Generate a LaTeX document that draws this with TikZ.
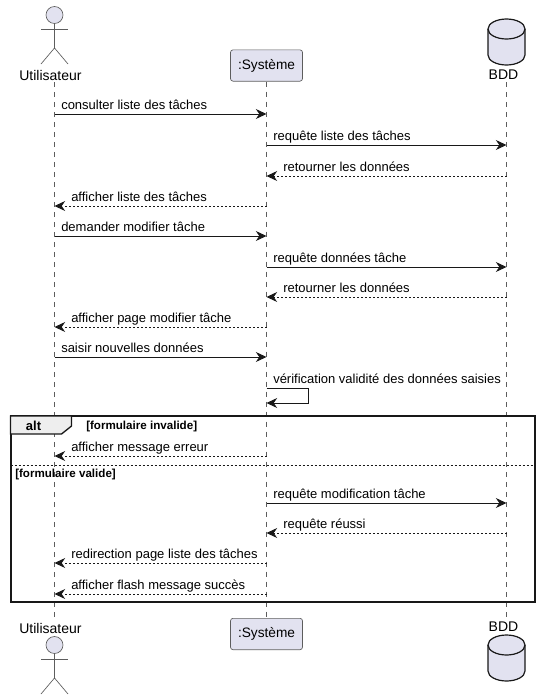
\documentclass[tikz,border=0pt]{standalone}
\usepackage{fontspec}
\setmainfont{Liberation Sans}
\usetikzlibrary{arrows.meta}
\definecolor{partfill}{HTML}{E2E2F0}
\definecolor{partline}{HTML}{181818}
\definecolor{tabfill}{HTML}{EEEEEE}
\tikzset{lifeline/.style={draw=partline!70, line width=0.5pt, dash pattern=on 3.75pt off 3.75pt}}
\tikzset{msg/.style={draw=partline, line width=0.75pt, -{Stealth[length=8pt, width=7.5pt, inset=2.6pt]}}}
\tikzset{reply/.style={msg, dash pattern=on 1.5pt off 1.5pt}}
\tikzset{msglabel/.style={anchor=base west, inner sep=0pt, font=\fontsize{9.75}{11}\selectfont}}
\tikzset{partname/.style={inner sep=0pt, font=\fontsize{10.5}{12}\selectfont}}
\tikzset{framelabel/.style={anchor=base west, inner sep=0pt, font=\fontsize{8.7}{10}\selectfont\bfseries}}
\tikzset{actorline/.style={draw=partline!70, line width=0.5pt}}
\tikzset{partbox/.style={draw=partline!70, fill=partfill, line width=0.5pt, rounded corners=1.9pt, minimum width=54pt, minimum height=23.5pt, inner sep=0pt, font=\fontsize{10.25}{12}\selectfont}}
\tikzset{dbshape/.style={draw=partline, fill=partfill, line width=0.9pt}}
\begin{document}
\begin{tikzpicture}[x=0.75pt, y=-0.75pt]
    \useasboundingbox (0, 0) rectangle (540, 700);
    % participants, top and bottom
    \node[partname] (userTop) at (50.5, 75) {Utilisateur};
    \node[partname] (userBottom) at (50.5, 628) {Utilisateur};
    \node[partname] (bddTop) at (503.5, 75) {BDD};
    \node[partname] (bddBottom) at (503.5, 627) {BDD};
    \node[partbox] (sysTop) at (266.5, 65.5) {:Système};
    \node[partbox] (sysBottom) at (266.5, 634) {:Système};
    % lifelines
    \coordinate (userHead) at (54.5, 82);
    \coordinate (userFoot) at (54.5, 618);
    \coordinate (bddHead) at (506.5, 82);
    \coordinate (bddFoot) at (506.5, 618);
    \draw[lifeline] (userHead) -- (userFoot);
    \draw[lifeline] (bddHead) -- (bddFoot);
    \draw[lifeline] (sysTop) -- (sysBottom);
    % actors
    \foreach \y in {15, 645} {
        \draw[actorline, fill=partfill] (54.5, \y) circle [radius = 8.5];
        \draw[actorline] (54.5, \y+8.5) -- (54.5, \y+33) (41, \y+14.5) -- (68, \y+14.5);
        \draw[actorline] (41, \y+49) -- (54.5, \y+33) -- (68, \y+49);
    }
    % databases
    \foreach \y in {19, 635} {
        \draw[dbshape] (488, \y+10) -- (488, \y+36) arc [start angle=180, end angle=360, x radius=18.5, y radius=-10] -- (525, \y+10) arc [start angle=0, end angle=180, x radius=18.5, y radius=-10] -- cycle;
        \draw[dbshape, fill=none] (488, \y+10) arc [start angle=180, end angle=360, x radius=18.5, y radius=-10];
    }
    % messages
    \foreach \y/\xa/\xb/\kind/\xt/\txt in {
        114/54.5/266.5/msg/61/consulter liste des tâches,
        145/266.5/506.5/msg/273/requête liste des tâches,
        176/506.5/266.5/reply/283/retourner les données,
        206/266.5/54.5/reply/71/afficher liste des tâches,
        236/54.5/266.5/msg/61/demander modifier tâche,
        267/266.5/506.5/msg/273/requête données tâche,
        297/506.5/266.5/reply/283/retourner les données,
        327/266.5/54.5/reply/71/afficher page modifier tâche,
        357/54.5/266.5/msg/61/saisir nouvelles données,
        456/266.5/54.5/reply/71/afficher message erreur,
        503/266.5/506.5/msg/273/requête modification tâche,
        533/506.5/266.5/reply/283/requête réussi,
        563/266.5/54.5/reply/71/redirection page liste des tâches,
        594/266.5/54.5/reply/71/afficher flash message succès} {
        \coordinate (from\y) at (\xa, \y);
        \coordinate (to\y) at (\xb, \y);
        \draw[\kind] (from\y) -- (to\y);
        \node[msglabel] (label\y) at (\xt, \y-4.5) {\txt};
    }
    % self message
    \coordinate (selfA) at (266.5, 388);
    \coordinate (selfB) at (308.5, 388);
    \coordinate (selfC) at (308.5, 403);
    \coordinate (selfD) at (266.5, 403);
    \draw[msg] (selfA) -- (selfB) -- (selfC) -- (selfD);
    \node[msglabel] (labelSelf) at (273, 383.5) {vérification validité des données saisies};
    % alt frame
    \draw[partline, line width=1.5pt] (10.5, 416) rectangle (535, 602);
    \draw[partline, line width=1pt, fill=tabfill] (10.5, 416) -- (71.5, 416) -- (71.5, 426) -- (61.5, 434) -- (10.5, 434) -- cycle;
    \node[inner sep=0pt, font=\fontsize{9.75}{12}\selectfont\bfseries] (altName) at (33.5, 426) {alt};
    \node[framelabel] (guardOne) at (86, 429.5) {[formulaire invalide]};
    \draw[partline, line width=0.75pt, dash pattern=on 1.5pt off 1.5pt] (10.5, 465) -- (535, 465);
    \node[framelabel] (guardTwo) at (15, 477.5) {[formulaire valide]};
\end{tikzpicture}
\end{document}
